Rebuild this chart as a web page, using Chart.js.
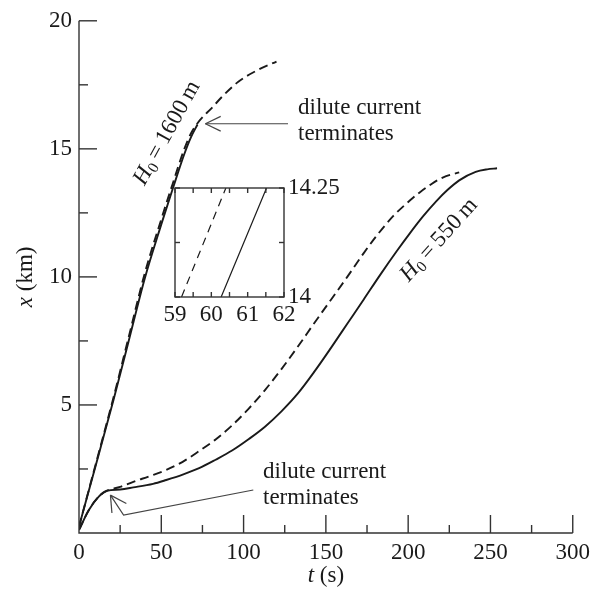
<!DOCTYPE html>
<html>
<head>
<meta charset="utf-8">
<script src="https://cdn.jsdelivr.net/npm/chart.js@4.4.1/dist/chart.umd.min.js"></script>
<style>
  html, body { margin: 0; padding: 0; background: #fff; }
  #wrap { position: relative; width: 596px; height: 596px; }
  #main { position: absolute; left: 0; top: 0; }
  #inset { position: absolute; left: 150px; top: 170px; }
</style>
</head>
<body>
<div id="wrap">
  <canvas id="main" width="596" height="596"></canvas>
  <canvas id="inset" width="210" height="170"></canvas>
</div>
<script>
// --- Data (t in s, x in km) ---
// H0 = 1600 m
const t1600Solid = [0, 10, 21, 30, 40, 50, 57, 64, 68, 72];
const x1600Solid = [0.25, 2.6, 5.2, 7.45, 9.95, 12.05, 13.45, 14.8, 15.45, 15.95];
const t1600Dash = [0, 10, 21, 30, 40, 50, 57, 64, 68, 72, 76, 80, 87, 97, 109, 120];
const x1600Dash = [0.25, 2.65, 5.3, 7.6, 10.15, 12.25, 13.65, 15.0, 15.6, 16.0, 16.3, 16.55, 17.04, 17.63, 18.09, 18.41];

// H0 = 550 m
const t550Solid = [0, 6, 12, 17, 25, 33, 45, 53, 63, 73, 83, 93, 103, 113, 123, 133, 143, 153, 163, 173, 183, 193, 201, 209, 217, 224, 231, 241, 248, 254];
const x550Solid = [0.12, 0.9, 1.42, 1.65, 1.7, 1.78, 1.92, 2.07, 2.28, 2.53, 2.86, 3.22, 3.66, 4.15, 4.75, 5.45, 6.3, 7.22, 8.17, 9.12, 10.08, 11.0, 11.7, 12.36, 12.95, 13.4, 13.77, 14.1, 14.2, 14.24];
const t550Dash = [0, 6, 12, 17, 25, 33, 43, 53, 63, 73, 83, 93, 103, 113, 123, 133, 143, 153, 163, 173, 181, 191, 201, 207, 214, 221, 231];
const x550Dash = [0.12, 0.9, 1.42, 1.65, 1.8, 2.0, 2.22, 2.46, 2.78, 3.2, 3.65, 4.2, 4.85, 5.58, 6.4, 7.28, 8.2, 9.1, 10.0, 10.93, 11.62, 12.38, 12.98, 13.3, 13.62, 13.88, 14.08];

// inset (zoom near x = 14 km, H0 = 1600 m)
const tInsetDash = [59.18, 60.40];
const xInsetDash = [14, 14.25];
const tInsetSolid = [60.27, 61.52];
const xInsetSolid = [14, 14.25];

// axis ranges / ticks
const tRange = [0, 300], tStep = 50;
const xRange = [0, 20], xStep = 5;
const tInsetRange = [59, 62], xInsetRange = [14, 14.25];

// --- Styles ---
const serif = "'Liberation Serif', 'Times New Roman', serif";
const ink = '#1a1a1a';
const axisInk = '#333';
const fs = 23;
Chart.defaults.font.family = serif;
Chart.defaults.color = ink;

const pts = (ts, xs) => ts.map((t, i) => ({ x: t, y: xs[i] }));

function seg(ctx, x1, y1, x2, y2) {
    ctx.beginPath();
    ctx.moveTo(x1, y1);
    ctx.lineTo(x2, y2);
    ctx.stroke();
}

// draw text made of pieces (italic / subscript), starting at x
function rich(ctx, pieces, x, y, size) {
    let cx = x;
    for (const p of pieces) {
        const s = p.sub ? size * 0.68 : size;
        ctx.font = (p.italic ? 'italic ' : '') + s + 'px ' + serif;
        ctx.fillText(p.t, cx, y + (p.sub ? size * 0.25 : 0));
        cx += ctx.measureText(p.t).width;
    }
    return cx - x;
}
function richWidth(ctx, pieces, size) {
    let w = 0;
    for (const p of pieces) {
        const s = p.sub ? size * 0.68 : size;
        ctx.font = (p.italic ? 'italic ' : '') + s + 'px ' + serif;
        w += ctx.measureText(p.t).width;
    }
    return w;
}
function richCentered(ctx, pieces, cx, cy, angle, size) {
    ctx.save();
    ctx.translate(cx, cy);
    ctx.rotate(angle);
    ctx.textBaseline = 'middle';
    ctx.textAlign = 'left';
    const w = richWidth(ctx, pieces, size);
    rich(ctx, pieces, -w / 2, 0, size);
    ctx.restore();
}

// arrow head at tip, coming from point "from"
function arrowHead(ctx, tip, from, len, spread) {
    const ang = Math.atan2(from[1] - tip[1], from[0] - tip[0]);
    for (const s of [-spread, spread]) {
        seg(ctx, tip[0], tip[1], tip[0] + len * Math.cos(ang + s), tip[1] + len * Math.sin(ang + s));
    }
}

// --- Main chart decorations: axes, inward ticks, titles, annotations ---
const mainDecor = {
    id: 'mainDecor',
    afterDraw(chart) {
        const { ctx, chartArea: a, scales: { x, y } } = chart;
        ctx.save();
        ctx.strokeStyle = axisInk;
        ctx.lineWidth = 1.4;
        ctx.beginPath();
        ctx.moveTo(a.left, a.top);
        ctx.lineTo(a.left, a.bottom);
        ctx.lineTo(a.right, a.bottom);
        ctx.stroke();

        // inward ticks, major + minor halfway
        x.ticks.forEach(tk => {
            const px = x.getPixelForValue(tk.value);
            if (tk.value > tRange[0]) seg(ctx, px, a.bottom, px, a.bottom - 18);
            const mid = tk.value + tStep / 2;
            if (mid < tRange[1]) {
                const pm = x.getPixelForValue(mid);
                seg(ctx, pm, a.bottom, pm, a.bottom - 8);
            }
        });
        y.ticks.forEach(tk => {
            const py = y.getPixelForValue(tk.value);
            if (tk.value > xRange[0]) seg(ctx, a.left, py, a.left + 18, py);
            const mid = tk.value + xStep / 2;
            if (mid < xRange[1]) {
                const pm = y.getPixelForValue(mid);
                seg(ctx, a.left, pm, a.left + 9, pm);
            }
        });

        // axis titles
        ctx.fillStyle = ink;
        ctx.textBaseline = 'alphabetic';
        const tTitle = [{ t: 't', italic: true }, { t: ' (s)' }];
        const tw = richWidth(ctx, tTitle, fs);
        rich(ctx, tTitle, (a.left + a.right) / 2 - tw / 2, 582, fs);

        ctx.save();
        ctx.translate(32, (a.top + a.bottom) / 2);
        ctx.rotate(-Math.PI / 2);
        const xTitle = [{ t: 'x', italic: true }, { t: ' (km)' }];
        const xw = richWidth(ctx, xTitle, fs);
        rich(ctx, xTitle, -xw / 2, 0, fs);
        ctx.restore();

        // curve labels
        richCentered(ctx, [{ t: 'H', italic: true }, { t: '0', sub: true }, { t: '\u2009=\u20091600\u2009m' }],
            167, 133, -61 * Math.PI / 180, fs);
        richCentered(ctx, [{ t: 'H', italic: true }, { t: '0', sub: true }, { t: '\u2009=\u2009550\u2009m' }],
            439, 240, -48 * Math.PI / 180, fs);

        // annotations: arrows
        ctx.strokeStyle = '#444';
        ctx.lineWidth = 1.2;
        const tip1 = [x.getPixelForValue(76.8), y.getPixelForValue(15.98)];
        const tail1 = [x.getPixelForValue(127), y.getPixelForValue(15.98)];
        seg(ctx, tip1[0], tip1[1], tail1[0], tail1[1]);
        arrowHead(ctx, tip1, tail1, 17, 0.45);

        const tip2 = [x.getPixelForValue(19.1), y.getPixelForValue(1.48)];
        const knee2 = [x.getPixelForValue(27.1), y.getPixelForValue(0.7)];
        const tail2 = [x.getPixelForValue(105.9), y.getPixelForValue(1.68)];
        ctx.beginPath();
        ctx.moveTo(tip2[0], tip2[1]);
        ctx.lineTo(knee2[0], knee2[1]);
        ctx.lineTo(tail2[0], tail2[1]);
        ctx.stroke();
        arrowHead(ctx, tip2, knee2, 18, 0.5);

        ctx.fillStyle = ink;
        ctx.font = fs + 'px ' + serif;
        ctx.textAlign = 'left';
        ctx.textBaseline = 'alphabetic';
        ctx.fillText('dilute current', 298, 114);
        ctx.fillText('terminates', 298, 140);
        ctx.fillText('dilute current', 263, 478);
        ctx.fillText('terminates', 263, 504);
        ctx.restore();
    }
};

const lineStyle = (data, dashed) => ({
    data,
    showLine: true,
    borderColor: ink,
    borderWidth: 1.9,
    borderDash: dashed ? [9, 5] : [],
    pointRadius: 0,
    cubicInterpolationMode: 'monotone',
    fill: false
});

new Chart(document.getElementById('main'), {
    type: 'scatter',
    data: {
        datasets: [
            lineStyle(pts(t1600Dash, x1600Dash), true),
            lineStyle(pts(t1600Solid, x1600Solid), false),
            lineStyle(pts(t550Dash, x550Dash), true),
            lineStyle(pts(t550Solid, x550Solid), false)
        ]
    },
    options: {
        responsive: false,
        animation: false,
        layout: { padding: { top: 20, right: 19, left: 0, bottom: 0 } },
        plugins: { legend: { display: false }, tooltip: { enabled: false } },
        scales: {
            x: {
                type: 'linear',
                min: tRange[0], max: tRange[1],
                grid: { display: false, drawTicks: false },
                border: { display: false },
                ticks: { stepSize: tStep, padding: 6, autoSkip: false, maxRotation: 0, color: ink, font: { size: fs } },
                afterFit: s => { s.height = 63; }
            },
            y: {
                type: 'linear',
                min: xRange[0], max: xRange[1],
                grid: { display: false, drawTicks: false },
                border: { display: false },
                ticks: { stepSize: xStep, padding: 7, autoSkip: false, color: ink, font: { size: fs },
                    callback: v => v === 0 ? '' : v },
                afterFit: s => { s.width = 79; }
            }
        }
    },
    plugins: [mainDecor]
});

// --- Inset ---
const insetDecor = {
    id: 'insetDecor',
    afterDraw(chart) {
        const { ctx, chartArea: a, scales: { x, y } } = chart;
        ctx.save();
        ctx.strokeStyle = axisInk;
        ctx.lineWidth = 1.4;
        ctx.strokeRect(a.left, a.top, a.right - a.left, a.bottom - a.top);
        x.ticks.forEach(tk => {
            const px = x.getPixelForValue(tk.value);
            seg(ctx, px, a.bottom, px, a.bottom - 5);
            seg(ctx, px, a.top, px, a.top + 5);
        });
        y.ticks.forEach(tk => {
            const py = y.getPixelForValue(tk.value);
            seg(ctx, a.left, py, a.left + 5, py);
            seg(ctx, a.right, py, a.right - 5, py);
        });
        ctx.restore();
    }
};

const insetLine = (data, dashed) => ({
    data,
    showLine: true,
    borderColor: ink,
    borderWidth: 1.2,
    borderDash: dashed ? [8, 6] : [],
    pointRadius: 0,
    fill: false
});

new Chart(document.getElementById('inset'), {
    type: 'scatter',
    data: {
        datasets: [
            insetLine(pts(tInsetDash, xInsetDash), true),
            insetLine(pts(tInsetSolid, xInsetSolid), false)
        ]
    },
    options: {
        responsive: false,
        animation: false,
        layout: { padding: { top: 18, left: 25, right: 0, bottom: 0 } },
        plugins: { legend: { display: false }, tooltip: { enabled: false } },
        scales: {
            x: {
                type: 'linear', position: 'bottom',
                min: tInsetRange[0], max: tInsetRange[1],
                grid: { display: false, drawTicks: false },
                border: { display: false },
                ticks: { stepSize: 0.5, padding: 4, autoSkip: false, maxRotation: 0, color: ink, font: { size: fs },
                    callback: v => Number.isInteger(v) ? v : '' },
                afterFit: s => { s.height = 43; }
            },
            y: {
                type: 'linear', position: 'right',
                min: xInsetRange[0], max: xInsetRange[1],
                grid: { display: false, drawTicks: false },
                border: { display: false },
                ticks: { stepSize: 0.125, padding: 4, autoSkip: false, color: ink, font: { size: fs },
                    callback: v => v === 14.25 ? '14.25' : (v === 14 ? '14' : '') },
                afterFit: s => { s.width = 76; }
            }
        }
    },
    plugins: [insetDecor]
});
</script>
</body>
</html>
